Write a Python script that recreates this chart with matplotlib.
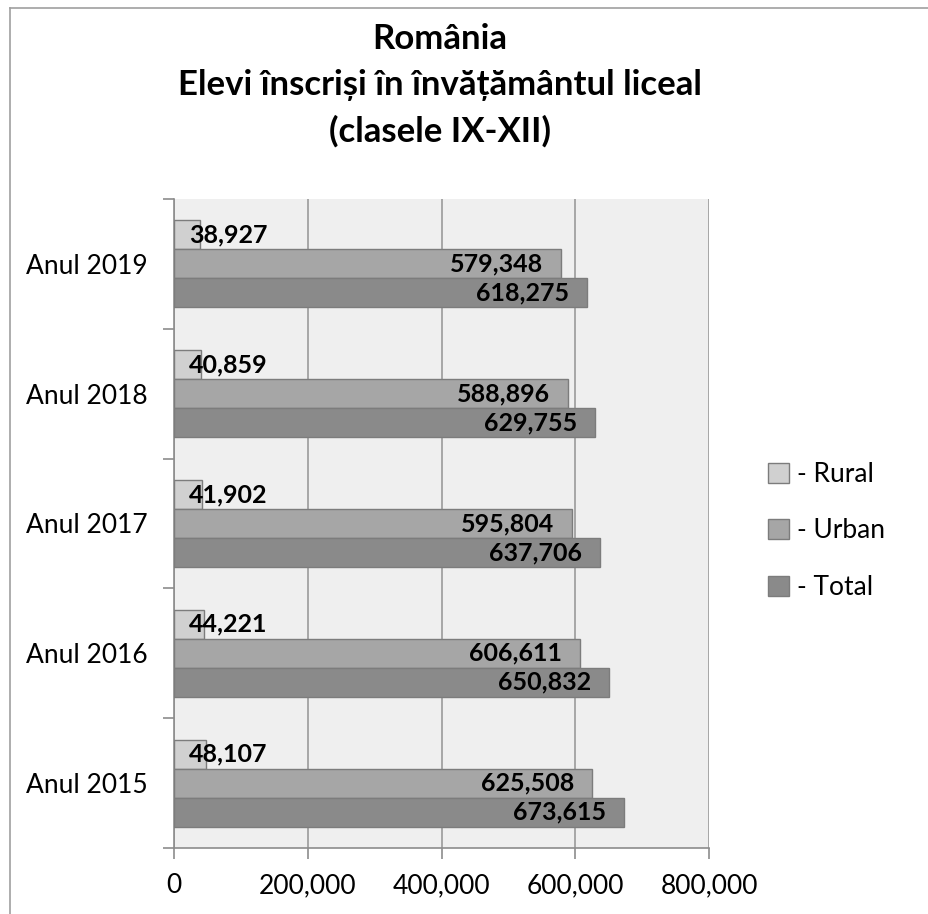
import numpy as np
import matplotlib.pyplot as plt
from matplotlib.lines import Line2D
from matplotlib.patches import Patch
from matplotlib.ticker import FuncFormatter

plt.rcParams['font.family'] = ['Lato', 'DejaVu Sans']

# Data
years = ['Anul 2015', 'Anul 2016', 'Anul 2017', 'Anul 2018', 'Anul 2019']
rural = [48107, 44221, 41902, 40859, 38927]
urban = [625508, 606611, 595804, 588896, 579348]
total = [673615, 650832, 637706, 629755, 618275]
series_names = ['- Rural', '- Urban', '- Total']
colors = ['#d0d0d0', '#a6a6a6', '#8a8a8a']
edge = '#7c7c7c'

fig = plt.figure(figsize=(9.29, 9.14), dpi=100)
ax = fig.add_axes([174 / 929, 1 - 848 / 914, 535 / 929, 649 / 914])
ax.set_facecolor('#efefef')

# outer chart frame (cropped on the right/bottom)
fig.add_artist(Line2D([10 / 929, 10 / 929], [0, 1 - 8 / 914], color='#a0a0a0', lw=1.2, transform=fig.transFigure))
fig.add_artist(Line2D([10 / 929, 1], [1 - 8 / 914, 1 - 8 / 914], color='#a0a0a0', lw=1.2, transform=fig.transFigure))

y = np.arange(len(years))
h = 0.223
ax.barh(y + h, rural, height=h, color=colors[0], edgecolor=edge, linewidth=1, zorder=3)
ax.barh(y, urban, height=h, color=colors[1], edgecolor=edge, linewidth=1, zorder=3)
ax.barh(y - h, total, height=h, color=colors[2], edgecolor=edge, linewidth=1, zorder=3)

for yy, v in zip(y + h, rural):
    ax.annotate(f'{v:,}', xy=(0, yy), xytext=(11, 0), textcoords='offset points',
                ha='left', va='center', fontsize=18, fontweight='bold', zorder=4)
for ys, vals in ((y, urban), (y - h, total)):
    for yy, v in zip(ys, vals):
        ax.annotate(f'{v:,}', xy=(v, yy), xytext=(-13, 0), textcoords='offset points',
                    ha='right', va='center', fontsize=18, fontweight='bold', zorder=4)

ax.set_xlim(0, 800000)
ax.set_ylim(-0.5, len(years) - 0.5)
ax.set_xticks(np.arange(0, 800001, 200000))
ax.xaxis.set_major_formatter(FuncFormatter(lambda v, p: f'{int(v):,}'))
ax.grid(axis='x', color='#9a9a9a', linewidth=1.2, zorder=0)

ax.set_yticks(np.arange(-0.5, len(years), 1.0))
ax.set_yticklabels([])
ax.set_yticks(y, minor=True)
ax.set_yticklabels(years, minor=True)
ax.tick_params(axis='y', which='major', length=8, color='#8c8c8c', width=1.2)
ax.tick_params(axis='y', which='minor', length=0, pad=19, labelsize=19)
ax.tick_params(axis='x', length=8, color='#8c8c8c', width=1.2, pad=10, labelsize=19)

for s in ('top', 'right'):
    ax.spines[s].set_visible(False)
for s in ('left', 'bottom'):
    ax.spines[s].set_color('#8c8c8c')
    ax.spines[s].set_linewidth(1.2)

fig.text(440 / 929, 1 - 85 / 914, 'România\nElevi înscriși în învățământul liceal\n(clasele IX-XII)',
         ha='center', va='center', fontsize=25, fontweight='bold', linespacing=1.53)

handles = [Patch(facecolor=c, edgecolor=edge) for c in colors]
fig.legend(handles, series_names, loc='center left', bbox_to_anchor=(757 / 929, 1 - 531 / 914),
           frameon=False, fontsize=19, handlelength=0.8, handleheight=0.8,
           handletextpad=0.3, labelspacing=1.2, borderaxespad=0)

fig.savefig('out.png', dpi=100, facecolor='white')
